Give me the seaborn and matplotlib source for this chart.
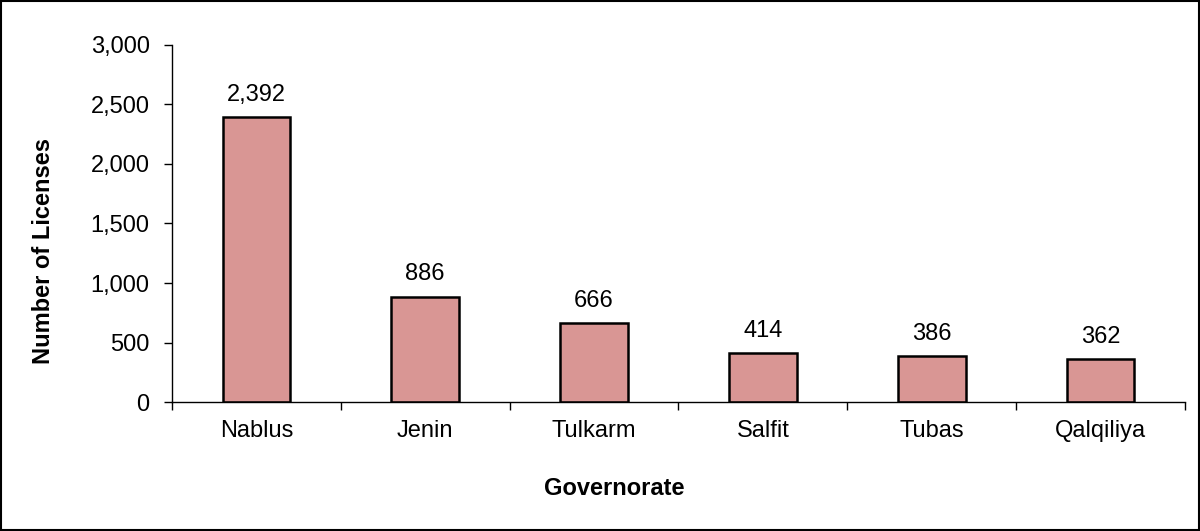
import matplotlib.pyplot as plt
import pandas as pd
import seaborn as sns
from matplotlib.patches import Rectangle
from matplotlib.ticker import FuncFormatter, FixedLocator

governorates = ['Nablus', 'Jenin', 'Tulkarm', 'Salfit', 'Tubas', 'Qalqiliya']
licenses = [2392, 886, 666, 414, 386, 362]

df = pd.DataFrame({'Governorate': governorates, 'Licenses': licenses})

sns.set_theme(style='white')
plt.rcParams['font.family'] = ['Liberation Sans', 'DejaVu Sans']

fig = plt.figure(figsize=(12, 5.31), dpi=100)
ax = fig.add_axes([0.1433, 0.2429, 0.8442, 0.6724])

sns.barplot(data=df, x='Governorate', y='Licenses', color='#D99694',
            saturation=1, edgecolor='black', linewidth=1.8, width=0.4, ax=ax)

ax.bar_label(ax.containers[0], labels=[f'{v:,}' for v in licenses],
             padding=8, fontsize=17, color='black')

ax.set_ylim(0, 3000)
ax.set_xlim(-0.5, len(governorates) - 0.5)
ax.set_yticks(range(0, 3001, 500))
ax.yaxis.set_major_formatter(FuncFormatter(lambda v, p: f'{v:,.0f}'))

# ticks between categories on x axis
ax.tick_params(axis='x', which='major', length=0, pad=13, labelsize=17, colors='black')
ax.xaxis.set_minor_locator(FixedLocator([i - 0.5 for i in range(len(governorates) + 1)]))
ax.tick_params(axis='x', which='minor', length=6, width=1, color='black', direction='out', bottom=True)
ax.tick_params(axis='y', length=6, width=1, color='black', direction='out', left=True,
               labelsize=17, pad=10, labelcolor='black')

for side in ['top', 'right']:
    ax.spines[side].set_visible(False)
for side in ['left', 'bottom']:
    ax.spines[side].set_color('black')
    ax.spines[side].set_linewidth(1)

ax.set_xlabel('Governorate', fontsize=17, fontweight='bold', color='black')
ax.set_ylabel('Number of Licenses', fontsize=17, fontweight='bold', color='black')
ax.xaxis.label.set_va('center')
ax.yaxis.label.set_va('center')
ax.xaxis.set_label_coords(0.437, -0.241)
ax.yaxis.set_label_coords(-0.127, 0.423)

fig.patches.append(Rectangle((0.001, 0.002), 0.998, 0.996, transform=fig.transFigure,
                             fill=False, edgecolor='black', linewidth=1.5))

fig.savefig('out.png', dpi=100)
